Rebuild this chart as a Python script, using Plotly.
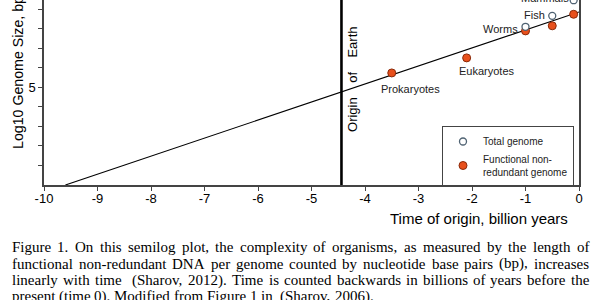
import plotly.graph_objects as go

# ---------------- data ----------------
groups = ["Prokaryotes", "Eukaryotes", "Worms", "Fish", "Mammals"]
time_functional = [-3.50, -2.10, -1.00, -0.50, -0.10]
log_functional = [5.73, 6.50, 7.88, 8.14, 8.73]

total_groups = ["Worms", "Fish", "Mammals"]
time_total = [-1.00, -0.50, -0.10]
log_total = [8.09, 8.65, 9.45]

trend_time = [-9.6, 0.0]
trend_log = [0.0, 8.85]

earth_origin = -4.44

x_tick_vals = [-10, -9, -8, -7, -6, -5, -4, -3, -2, -1, 0]
x_tick_text = ["-10", "-9", "-8", "-7", "-6", "-5", "-4", "-3", "-2", "-1", "0"]
y_tick_vals = [1, 2, 3, 4, 5, 6, 7, 8, 9]
y_tick_text = ["", "", "", "", "5", "", "", "", ""]

caption_lines = [
    "Figure 1. On this semilog plot, the complexity of organisms, as measured by the length of",
    "functional non-redundant DNA per genome counted by nucleotide base pairs (bp), increases",
    "linearly with time  (Sharov, 2012). Time is counted backwards in billions of years before the",
    "present (time 0). Modified from Figure 1 in  (Sharov, 2006).",
]
caption_justified = [True, True, True, False]

# label offsets (pixels) relative to the marker they describe
label_info = {
    "Prokaryotes": ("f", "center", 19, -16),
    "Eukaryotes": ("f", "center", 20, -13),
    "Worms": ("f", "right", -6, 2),
    "Fish": ("t", "right", -5, 1),
    "Mammals": ("t", "right", -3, 2),
}

# ---------------- layout geometry ----------------
W, H = 600, 300
ML, MR, MT, MB = 44, 21, 0, 115
PW = W - ML - MR
PH = H - MT - MB


def px_x(px):
    return (px - ML) / PW


def px_y(py):
    return (H - MB - py) / PH


SANS = "Liberation Sans, Arial, Helvetica, sans-serif"
SERIF = "Liberation Serif, Times New Roman, serif"
AXIS_COLOR = "#444444"

fig = go.Figure()

fig.add_trace(go.Scatter(
    x=trend_time, y=trend_log, mode="lines",
    line=dict(color="black", width=1.1), showlegend=False, hoverinfo="skip"))

fig.add_trace(go.Scatter(
    x=[earth_origin, earth_origin], y=[0, 12], mode="lines",
    line=dict(color="black", width=2.6), showlegend=False, hoverinfo="skip"))

fig.add_trace(go.Scatter(
    x=time_functional, y=log_functional, mode="markers",
    name="Functional non-<br>redundant genome",
    marker=dict(size=8, color="#e8501c", line=dict(color="#8a2a0a", width=1)),
    legendrank=2))

fig.add_trace(go.Scatter(
    x=time_total, y=log_total, mode="markers", name="Total genome",
    marker=dict(size=7, color="white", line=dict(color="#4f6272", width=1.3)),
    legendrank=1))

annotations = []

# point labels
for g, (src, anchor, dx, dy) in label_info.items():
    if src == "f":
        i = groups.index(g)
        xv, yv = time_functional[i], log_functional[i]
    else:
        i = total_groups.index(g)
        xv, yv = time_total[i], log_total[i]
    annotations.append(dict(
        x=xv, y=yv, xref="x", yref="y", text=g, showarrow=False,
        xanchor=anchor, yanchor="middle", xshift=dx, yshift=dy,
        font=dict(family=SANS, size=11, color="#222222")))

# origin of Earth label
annotations.append(dict(
    x=earth_origin, y=px_y(78.5), xref="x", yref="paper",
    text="Origin\u00a0\u00a0\u00a0 of \u00a0\u00a0\u00a0Earth", textangle=-90, showarrow=False,
    xanchor="center", yanchor="middle",
    xshift=11, font=dict(family=SANS, size=13, color="black")))

# axis titles
annotations.append(dict(
    x=px_x(479), y=px_y(218), xref="paper", yref="paper",
    xanchor="center", yanchor="middle",
    text="Time of origin, billion years", showarrow=False,
    font=dict(family=SANS, size=15, color="black")))
annotations.append(dict(
    x=px_x(18), y=px_y(73), xref="paper", yref="paper",
    xanchor="center", yanchor="middle",
    text="Log10 Genome Size, bp", textangle=-90, showarrow=False,
    font=dict(family=SANS, size=14.2, color="black")))

# caption (Times-like metrics, justified)
TW = {
    'a': 444, 'b': 500, 'c': 444, 'd': 500, 'e': 444, 'f': 333, 'g': 500, 'h': 500,
    'i': 278, 'j': 278, 'k': 500, 'l': 278, 'm': 778, 'n': 500, 'o': 500, 'p': 500,
    'q': 500, 'r': 333, 's': 389, 't': 278, 'u': 500, 'v': 500, 'w': 722, 'x': 500,
    'y': 500, 'z': 444,
    'A': 722, 'B': 667, 'C': 667, 'D': 722, 'E': 611, 'F': 556, 'G': 722, 'H': 722,
    'I': 333, 'J': 389, 'K': 722, 'L': 611, 'M': 889, 'N': 722, 'O': 722, 'P': 556,
    'Q': 722, 'R': 667, 'S': 556, 'T': 611, 'U': 722, 'V': 722, 'W': 944, 'X': 722,
    'Y': 722, 'Z': 611,
    ' ': 250, '.': 250, ',': 250, '(': 333, ')': 333, '-': 333,
}
CAP_FS = 15
CAP_LEFT, CAP_RIGHT = 11, 588
CAP_Y = [247, 263.5, 280, 296.5]


def wwidth(word):
    return sum(TW.get(c, 500) for c in word) * CAP_FS / 1000.0


for line, just, cy in zip(caption_lines, caption_justified, CAP_Y):
    toks = line.split(" ")
    words_w = sum(wwidth(t) for t in toks)
    ngaps = len(toks) - 1
    space = TW[' '] * CAP_FS / 1000.0
    if just:
        gap = (CAP_RIGHT - CAP_LEFT - words_w) / ngaps
    else:
        gap = space
    xpos = CAP_LEFT
    for t in toks:
        if t:
            annotations.append(dict(
                x=px_x(xpos - 1), y=px_y(cy), xref="paper", yref="paper",
                text=t, showarrow=False, xanchor="left", yanchor="middle",
                font=dict(family=SERIF, size=CAP_FS, color="black")))
        xpos += wwidth(t) + gap

fig.update_layout(
    width=W, height=H,
    margin=dict(l=ML, r=MR, t=MT, b=MB, pad=0),
    paper_bgcolor="white", plot_bgcolor="white",
    annotations=annotations,
    showlegend=True,
    legend=dict(
        x=px_x(574), y=px_y(156), xanchor="right", yanchor="middle",
        bgcolor="white", bordercolor=AXIS_COLOR, borderwidth=1,
        font=dict(family=SANS, size=10, color="#222222"),
        tracegroupgap=0, itemwidth=30),
    xaxis=dict(
        range=[-10, 0], tickvals=x_tick_vals, ticktext=x_tick_text,
        showline=True, linecolor=AXIS_COLOR, linewidth=1.5, mirror=False,
        ticks="outside", ticklen=4, tickcolor=AXIS_COLOR, tickwidth=1.2,
        showgrid=False, zeroline=False, ticklabelstandoff=-3,
        tickfont=dict(family=SANS, size=13, color="black")),
    yaxis=dict(
        range=[0, 9.46], tickvals=y_tick_vals, ticktext=y_tick_text,
        showline=True, linecolor=AXIS_COLOR, linewidth=1.5, mirror=True,
        ticks="outside", ticklen=4, tickcolor=AXIS_COLOR, tickwidth=1.2,
        showgrid=False, zeroline=False,
        tickfont=dict(family=SANS, size=13, color="black")),
)

fig.write_html("out.html")
